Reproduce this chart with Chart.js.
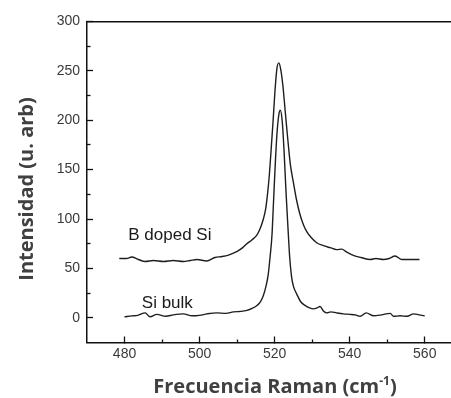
<!DOCTYPE html>
<html>
<head>
<meta charset="utf-8">
<script src="https://cdn.jsdelivr.net/npm/chart.js@4.4.1/dist/chart.umd.min.js"></script>
<style>
  html, body { margin: 0; padding: 0; background: #fff; }
  #wrap { width: 451px; height: 398px; position: relative; }
</style>
</head>
<body>
<div id="wrap"><canvas id="c" width="451" height="398"></canvas></div>
<script>
// ---- data ----
const bulkX = [480, 482, 483.5, 485.5, 486.8, 488.6, 491, 493, 495.7, 498, 500, 502, 504.6, 507, 509, 511, 512.6, 514, 515.3, 516.2, 517, 517.7, 518.3, 518.8, 519.3, 519.7, 520.1, 520.6, 521.1, 521.5, 522, 522.5, 523, 523.5, 524, 524.5, 525, 525.9, 527, 528.1, 529.3, 530.4, 531.3, 532.1, 533, 533.9, 535, 536.5, 538.3, 540, 541.5, 542.8, 544.4, 546.4, 548.5, 550.8, 551.7, 553.5, 555.3, 557, 558.5, 560];
const bulkY = [1, 2, 2.5, 5, 1, 3.5, 1.5, 3, 4, 2, 2.5, 4, 5, 4.5, 6, 6.5, 7.5, 9.5, 12.5, 16, 22.5, 32, 44, 62, 84, 117, 150, 185, 205, 210, 200, 170, 130, 95, 62, 42, 32, 24, 16, 12.5, 10, 9, 10, 11.5, 7, 5, 6, 5, 4, 3.5, 3, 1.5, 5, 2, 3, 4.5, 1.5, 2, 1.5, 4, 3, 2];
const dopedX = [478.6, 480.5, 481.9, 483.7, 485.5, 487.7, 490.4, 493, 495.7, 497.5, 499.3, 501.9, 504.1, 506, 507.7, 509.9, 511.5, 512.6, 514, 515.3, 516.2, 517, 517.6, 518.1, 518.6, 519.1, 519.6, 520.1, 520.6, 521.1, 521.6, 522.2, 522.8, 523.4, 524.2, 525, 525.8, 526.8, 527.7, 528.6, 529.8, 531.2, 533, 534.8, 536.5, 537.9, 539, 540.5, 541.5, 543, 545.5, 547, 549, 550.5, 552.1, 553.9, 556, 558.6];
const dopedY = [60, 60, 61.5, 59, 57, 58, 57, 58, 57, 58, 59, 57.5, 61, 62, 63.5, 67, 71, 75, 79, 84, 91, 100, 110, 125, 145, 172, 200, 230, 252, 258, 252, 235, 210, 185, 155, 137, 120, 104, 94, 87, 81, 76, 73, 71, 69, 69.5, 67, 64, 62.5, 61, 59, 60, 59, 60, 62.5, 59, 59, 59];

const seriesNames = ['B doped Si', 'Si bulk'];
const labelAnchors = [[481.0, 78.5], [484.6, 10.2]];   // data coords of label text (left, baseline)

const xMajorTicks = [480, 500, 520, 540, 560];
const xMinorTicks = [490, 510, 530, 550];
const yMajorTicks = [0, 50, 100, 150, 200, 250, 300];
const yMinorTicks = [25, 75, 125, 175, 225, 275];

const xTitle = ['Frecuencia Raman (cm', '-1', ')'];
const yTitle = 'Intensidad (u. arb)';

// ---- helpers ----
const pts = (xs, ys) => xs.map((x, i) => ({ x: x, y: ys[i] }));
const setTicks = (vals) => (scale) => { scale.ticks = vals.map(v => ({ value: v })); };
const AXIS = '#111';
const tickFont = { family: 'Liberation Sans, Arial, sans-serif', size: 14 };

const decor = {
  id: 'decor',
  afterDraw(chart) {
    const ctx = chart.ctx;
    const xs = chart.scales.x, ys = chart.scales.y;
    ctx.save();
    // series labels
    ctx.fillStyle = '#1a1a1a';
    ctx.font = '17px "Liberation Sans", Arial, sans-serif';
    ctx.textAlign = 'left';
    ctx.textBaseline = 'alphabetic';
    seriesNames.forEach((n, i) => {
      ctx.fillText(n, xs.getPixelForValue(labelAnchors[i][0]), ys.getPixelForValue(labelAnchors[i][1]));
    });
    // x title with superscript
    ctx.fillStyle = '#404040';
    const big = 'bold 20px "Open Sans", sans-serif';
    const sup = 'bold 12px "Open Sans", sans-serif';
    ctx.font = big; const w1 = ctx.measureText(xTitle[0]).width; const w3 = ctx.measureText(xTitle[2]).width;
    ctx.font = sup; const w2 = ctx.measureText(xTitle[1]).width;
    let x0 = 275 - (w1 + w2 + w3) / 2;
    const by = 393;
    ctx.font = big; ctx.fillText(xTitle[0], x0, by);
    ctx.font = sup; ctx.fillText(xTitle[1], x0 + w1, by - 8);
    ctx.font = big; ctx.fillText(xTitle[2], x0 + w1 + w2, by);
    // y title
    ctx.translate(33, 189);
    ctx.rotate(-Math.PI / 2);
    ctx.textAlign = 'center';
    ctx.font = big;
    ctx.fillText(yTitle, 0, 0);
    ctx.restore();
  }
};

new Chart(document.getElementById('c'), {
  type: 'line',
  data: {
    datasets: [
      { label: seriesNames[0], data: pts(dopedX, dopedY) },
      { label: seriesNames[1], data: pts(bulkX, bulkY) }
    ]
  },
  options: {
    responsive: false,
    animation: false,
    layout: { padding: { top: 18, right: 0, bottom: 0, left: 0 } },
    elements: {
      line: { borderColor: '#1e1e1e', borderWidth: 1.4, tension: 0, cubicInterpolationMode: 'monotone', fill: false },
      point: { radius: 0, hoverRadius: 0 }
    },
    plugins: { legend: { display: false }, tooltip: { enabled: false } },
    scales: {
      x: {
        type: 'linear', position: 'bottom', min: 470, max: 567, weight: 1,
        afterBuildTicks: setTicks(xMajorTicks),
        afterFit: (s) => { s.height = 55.5; },
        grid: { drawOnChartArea: false, drawTicks: true, tickLength: -6, tickColor: AXIS, tickWidth: 1.3 },
        border: { display: true, color: AXIS, width: 1.5 },
        ticks: { font: tickFont, color: '#3a3a3a', padding: 9.5, maxRotation: 0, autoSkip: false }
      },
      x2: {
        type: 'linear', position: 'bottom', min: 470, max: 567, weight: 0,
        afterBuildTicks: setTicks(xMinorTicks),
        afterFit: (s) => { s.height = 0; },
        grid: { drawOnChartArea: false, drawTicks: true, tickLength: -3, tickColor: AXIS, tickWidth: 1.3 },
        border: { display: false },
        ticks: { display: false }
      },
      xTop: {
        type: 'linear', position: 'top', min: 470, max: 567,
        afterFit: (s) => { s.height = 0; },
        grid: { display: false, drawOnChartArea: false, drawTicks: false },
        border: { display: true, color: AXIS, width: 1.5 },
        ticks: { display: false }
      },
      y: {
        type: 'linear', position: 'left', min: -25, max: 300, weight: 1,
        afterBuildTicks: setTicks(yMajorTicks),
        afterFit: (s) => { s.width = 87; },
        grid: { drawOnChartArea: false, drawTicks: true, tickLength: -6, tickColor: AXIS, tickWidth: 1.3 },
        border: { display: true, color: AXIS, width: 1.5 },
        ticks: { font: tickFont, color: '#3a3a3a', padding: 13 }
      },
      y2: {
        type: 'linear', position: 'left', min: -25, max: 300, weight: 0,
        afterBuildTicks: setTicks(yMinorTicks),
        afterFit: (s) => { s.width = 0; },
        grid: { drawOnChartArea: false, drawTicks: true, tickLength: -3.5, tickColor: AXIS, tickWidth: 1.3 },
        border: { display: false },
        ticks: { display: false }
      }
    }
  },
  plugins: [decor]
});
</script>
</body>
</html>
